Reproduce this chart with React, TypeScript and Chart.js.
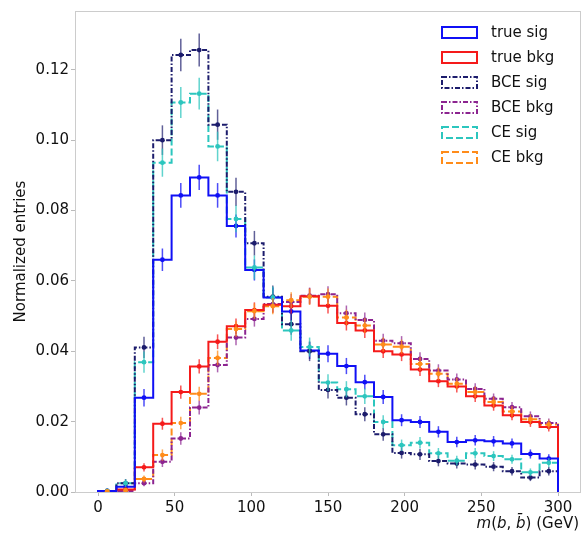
import React, { useEffect, useRef } from "react";
import { Chart, registerables } from "chart.js";

Chart.register(...registerables);

// ---- data ----
const binEdges = [0, 12, 24, 36, 48, 60, 72, 84, 96, 108, 120, 132, 144, 156, 168, 180, 192, 204, 216, 228, 240, 252, 264, 276, 288, 300];
const xTicks = [0, 50, 100, 150, 200, 250, 300];
const yTicks = [0, 0.02, 0.04, 0.06, 0.08, 0.1, 0.12];

const seriesNames = ["true sig", "true bkg", "BCE sig", "BCE bkg", "CE sig", "CE bkg"];

const trueSig = [0.0003, 0.0015, 0.0268, 0.066, 0.0843, 0.0894, 0.0843, 0.0756, 0.0631, 0.0553, 0.0513, 0.0402, 0.0393, 0.0358, 0.0312, 0.027, 0.0204, 0.0199, 0.0171, 0.0142, 0.0147, 0.0144, 0.0138, 0.0108, 0.0095];
const trueBkg = [0.0002, 0.0007, 0.007, 0.0194, 0.0284, 0.0357, 0.0427, 0.0471, 0.0517, 0.0532, 0.0528, 0.0556, 0.0529, 0.048, 0.0459, 0.04, 0.0391, 0.0348, 0.0315, 0.03, 0.0272, 0.0246, 0.0218, 0.0199, 0.0185];
const bceSig = [0.0003, 0.0025, 0.0411, 0.1, 0.1242, 0.1256, 0.1044, 0.0853, 0.0707, 0.0555, 0.0477, 0.04, 0.029, 0.0268, 0.0221, 0.0164, 0.0111, 0.0107, 0.0088, 0.0081, 0.0078, 0.0072, 0.0059, 0.0041, 0.0059];
const bceBkg = [0.0001, 0.0003, 0.0025, 0.0086, 0.0152, 0.024, 0.0361, 0.0439, 0.0492, 0.0534, 0.054, 0.0558, 0.0562, 0.0508, 0.0489, 0.043, 0.0423, 0.0378, 0.0345, 0.032, 0.0293, 0.0265, 0.0241, 0.0215, 0.0196];
const ceSig = [0.0003, 0.0025, 0.0369, 0.0936, 0.1107, 0.1132, 0.0982, 0.0776, 0.0638, 0.0553, 0.0459, 0.0412, 0.0311, 0.0292, 0.0272, 0.0199, 0.0133, 0.014, 0.011, 0.0089, 0.011, 0.0102, 0.0093, 0.0056, 0.0083];
const ceBkg = [0.0002, 0.0005, 0.0037, 0.0105, 0.0196, 0.0279, 0.0381, 0.0463, 0.0514, 0.0528, 0.0545, 0.0555, 0.0555, 0.0496, 0.0473, 0.0419, 0.0413, 0.0364, 0.0336, 0.0308, 0.0284, 0.0256, 0.0229, 0.0207, 0.0192];

const trueSigErr = [0.0003, 0.0008, 0.0025, 0.0032, 0.0035, 0.0036, 0.0035, 0.0033, 0.003, 0.0028, 0.0027, 0.0024, 0.0024, 0.0023, 0.0021, 0.002, 0.0017, 0.0017, 0.0016, 0.0015, 0.0015, 0.0015, 0.0014, 0.0013, 0.0012];
const trueBkgErr = [0.0002, 0.0005, 0.0012, 0.0017, 0.0019, 0.002, 0.0021, 0.0022, 0.0022, 0.0023, 0.0023, 0.0023, 0.0022, 0.0021, 0.0021, 0.0019, 0.0019, 0.0018, 0.0017, 0.0017, 0.0016, 0.0015, 0.0014, 0.0014, 0.0013];
const bceSigErr = [0.0004, 0.0012, 0.003, 0.0042, 0.0046, 0.0047, 0.0043, 0.004, 0.0035, 0.0032, 0.003, 0.0028, 0.0024, 0.0022, 0.002, 0.0018, 0.0016, 0.0016, 0.0015, 0.0014, 0.0014, 0.0013, 0.0012, 0.001, 0.0012];
const bceBkgErr = [0.0002, 0.0004, 0.0009, 0.0015, 0.0018, 0.002, 0.0021, 0.0022, 0.0022, 0.0023, 0.0023, 0.0023, 0.0023, 0.0022, 0.0021, 0.002, 0.002, 0.0019, 0.0018, 0.0017, 0.0016, 0.0015, 0.0015, 0.0014, 0.0013];
const ceSigErr = [0.0004, 0.0011, 0.003, 0.004, 0.0044, 0.0045, 0.0042, 0.0038, 0.0034, 0.0031, 0.0029, 0.0027, 0.0024, 0.0023, 0.0022, 0.0019, 0.0016, 0.0016, 0.0015, 0.0014, 0.0015, 0.0014, 0.0013, 0.0011, 0.0013];
const ceBkgErr = [0.0002, 0.0004, 0.001, 0.0016, 0.0018, 0.002, 0.0021, 0.0022, 0.0022, 0.0023, 0.0023, 0.0023, 0.0023, 0.0022, 0.0021, 0.002, 0.002, 0.0019, 0.0018, 0.0017, 0.0016, 0.0015, 0.0015, 0.0014, 0.0013];

// ---- styles ----
const seriesValues = [trueSig, trueBkg, bceSig, bceBkg, ceSig, ceBkg];
const seriesErrors = [trueSigErr, trueBkgErr, bceSigErr, bceBkgErr, ceSigErr, ceBkgErr];
const seriesColors = ["#1010f5", "#f51a1a", "#1c1c6c", "#8c2490", "#2cc6be", "#ff8c1a"];
const seriesErrColors = ["rgba(16,16,245,0.75)", "rgba(245,26,26,0.75)", "rgba(28,28,108,0.7)", "rgba(140,36,144,0.7)", "rgba(44,198,190,0.75)", "rgba(255,140,26,0.75)"];
const seriesDash: number[][] = [[], [], [5, 2, 1.5, 2], [5, 2, 1.5, 2], [7, 3], [7, 3]];

const FONT = "'DejaVu Sans', sans-serif";

// outline of a step histogram: horizontal-first steps through (left edge, value)
function stepPoints(vals: number[]) {
  const last = binEdges[binEdges.length - 1];
  const pts: { x: number; y: number }[] = [{ x: binEdges[0], y: 0 }];
  for (let i = 0; i < vals.length; i++) pts.push({ x: binEdges[i], y: vals[i] });
  pts.push({ x: last, y: vals[vals.length - 1] });
  pts.push({ x: last, y: 0 });
  return pts;
}

const extrasPlugin = {
  id: "histExtras",
  afterDatasetsDraw(chart: any) {
    const { ctx, chartArea } = chart;
    const xs = chart.scales.x;
    const ys = chart.scales.y;
    ctx.save();
    ctx.beginPath();
    ctx.rect(chartArea.left, chartArea.top, chartArea.right - chartArea.left, chartArea.bottom - chartArea.top);
    ctx.clip();
    seriesValues.forEach((vals, si) => {
      const errs = seriesErrors[si];
      for (let i = 0; i < vals.length; i++) {
        const cx = xs.getPixelForValue((binEdges[i] + binEdges[i + 1]) / 2);
        const yTop = ys.getPixelForValue(vals[i] + errs[i]);
        const yBot = ys.getPixelForValue(Math.max(0, vals[i] - errs[i]));
        ctx.strokeStyle = seriesErrColors[si];
        ctx.lineWidth = 1.5;
        ctx.setLineDash([]);
        ctx.beginPath();
        ctx.moveTo(cx, yTop);
        ctx.lineTo(cx, yBot);
        ctx.stroke();
        ctx.fillStyle = seriesColors[si];
        ctx.beginPath();
        ctx.arc(cx, ys.getPixelForValue(vals[i]), 2.4, 0, Math.PI * 2);
        ctx.fill();
      }
    });
    ctx.restore();
  },
  afterDraw(chart: any) {
    const { ctx, chartArea } = chart;
    ctx.save();
    // frame
    ctx.strokeStyle = "#cccccc";
    ctx.lineWidth = 1;
    ctx.setLineDash([]);
    ctx.strokeRect(chartArea.left + 0.5, chartArea.top + 0.5, chartArea.right - chartArea.left - 1, chartArea.bottom - chartArea.top);

    // legend
    ctx.font = `15px ${FONT}`;
    ctx.textBaseline = "middle";
    ctx.textAlign = "left";
    seriesNames.forEach((name, i) => {
      const cy = 32.5 + i * 25;
      ctx.strokeStyle = seriesColors[i];
      ctx.lineWidth = 2;
      ctx.setLineDash(seriesDash[i]);
      ctx.strokeRect(442, cy - 5.5, 35, 11);
      ctx.setLineDash([]);
      ctx.fillStyle = "#111111";
      ctx.fillText(name, 491, cy + 1);
    });

    // y title
    ctx.save();
    ctx.translate(21, (chartArea.top + chartArea.bottom) / 2);
    ctx.rotate(-Math.PI / 2);
    ctx.textAlign = "center";
    ctx.textBaseline = "middle";
    ctx.font = `15px ${FONT}`;
    ctx.fillStyle = "#111111";
    ctx.fillText("Normalized entries", 0, 0);
    ctx.restore();

    // x title: m(b, b̄) (GeV), right aligned
    const parts: [string, boolean][] = [
      ["m", true],
      ["(", false],
      ["b", true],
      [", ", false],
      ["b\u0304", true],
      [")", false],
      [" (GeV)", false],
    ];
    const widths = parts.map(([t, it]) => {
      ctx.font = `${it ? "oblique " : ""}15px ${FONT}`;
      return ctx.measureText(t).width;
    });
    const total = widths.reduce((a, b) => a + b, 0);
    let x = 579 - total;
    ctx.textAlign = "left";
    ctx.textBaseline = "alphabetic";
    ctx.fillStyle = "#111111";
    parts.forEach(([t, it], i) => {
      ctx.font = `${it ? "oblique " : ""}15px ${FONT}`;
      ctx.fillText(t, x, 528);
      x += widths[i];
    });
    ctx.restore();
  },
};

export default function App() {
  const ref = useRef<HTMLCanvasElement | null>(null);
  useEffect(() => {
    if (!ref.current) return;
    const chart = new Chart(ref.current, {
      type: "line",
      data: {
        datasets: seriesValues.map((vals, i) => ({
          label: seriesNames[i],
          data: stepPoints(vals),
          stepped: "before" as const,
          borderColor: seriesColors[i],
          borderWidth: 2,
          borderDash: seriesDash[i],
          pointRadius: 0,
          fill: false,
          tension: 0,
        })),
      },
      options: {
        animation: false,
        responsive: false,
        maintainAspectRatio: false,
        layout: { padding: { top: 9, right: 1, left: 0, bottom: 0 } },
        plugins: { legend: { display: false }, tooltip: { enabled: false }, title: { display: false } },
        scales: {
          x: {
            type: "linear",
            min: -15,
            max: 315,
            afterFit: (s: any) => { s.height = 44; },
            afterBuildTicks: (s: any) => { s.ticks = xTicks.map((v) => ({ value: v })); },
            grid: { display: true, drawOnChartArea: false, drawTicks: true, tickLength: 4, color: "#bbbbbb" },
            border: { display: false },
            ticks: { color: "#111111", font: { family: FONT, size: 15 }, padding: 3, maxRotation: 0, callback: (v: any) => String(v) },
          },
          y: {
            type: "linear",
            min: 0,
            max: 0.1367,
            afterFit: (s: any) => { s.width = 75; },
            afterBuildTicks: (s: any) => { s.ticks = yTicks.map((v) => ({ value: v })); },
            grid: { display: true, drawOnChartArea: false, drawTicks: true, tickLength: 4, color: "#bbbbbb" },
            border: { display: false },
            ticks: { color: "#111111", font: { family: FONT, size: 15 }, padding: 2, callback: (v: any) => Number(v).toFixed(2) },
          },
        },
      },
      plugins: [extrasPlugin],
    });
    return () => chart.destroy();
  }, []);
  return (
    <div style={{ position: "absolute", left: 0, top: 0, width: 582, height: 536, background: "#ffffff" }}>
      <canvas ref={ref} width={582} height={536} style={{ display: "block" }} />
    </div>
  );
}
